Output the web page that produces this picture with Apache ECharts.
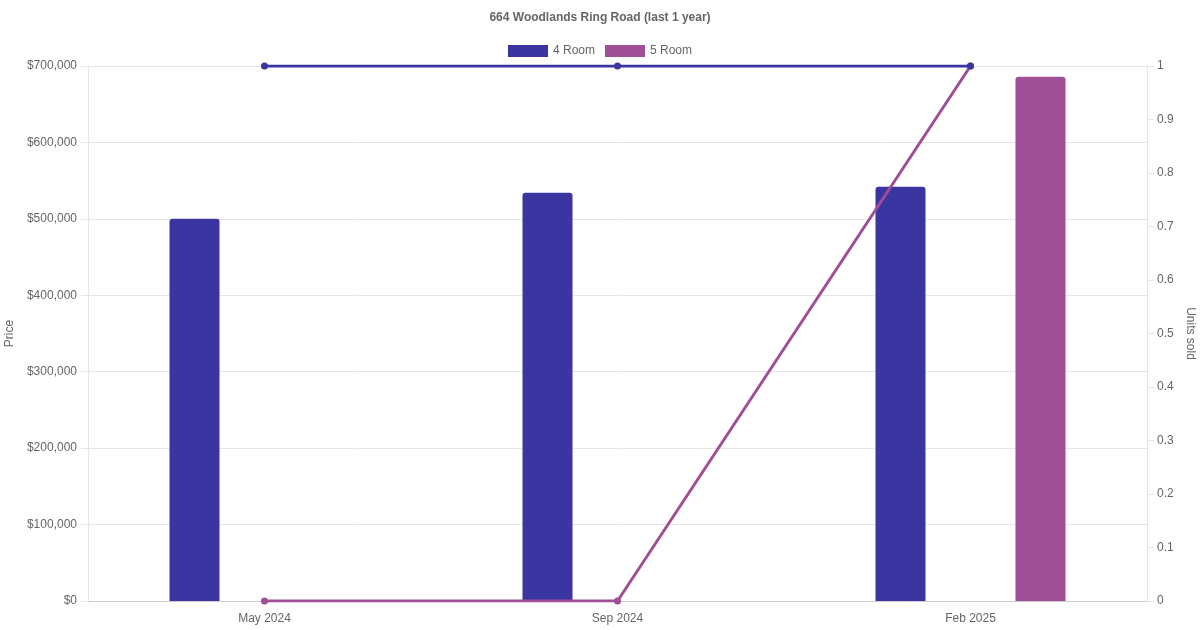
<!DOCTYPE html>
<html>
<head>
<meta charset="utf-8">
<script src="https://cdn.jsdelivr.net/npm/echarts@6/dist/echarts.min.js"></script>
<style>
html, body { margin: 0; padding: 0; background: #fff; }
#main { width: 1200px; height: 630px; }
</style>
</head>
<body>
<div id="main"></div>
<script>
var months = ['May 2024', 'Sep 2024', 'Feb 2025'];
var price4 = [500000, 534000, 542000];
var price5 = [null, null, 686000];
var units4 = [1, 1, 1];
var units5 = [0, 0, 1];

var c4 = '#3a35a0';
var c5 = '#9e4f95';
var txt = '#666';
var font = 'Liberation Sans, Arial, sans-serif';

var option = {
	animation: false,
	textStyle: { fontFamily: font },
	title: {
		text: '664 Woodlands Ring Road (last 1 year)',
		left: 'center',
		top: 7,
		textStyle: { fontSize: 12, fontWeight: 'bold', color: txt, fontFamily: font }
	},
	legend: {
		top: 40,
		left: 'center',
		icon: 'rect',
		itemWidth: 40,
		itemHeight: 12,
		itemGap: 10,
		textStyle: { fontSize: 12, color: txt },
		data: ['4 Room', '5 Room']
	},
	grid: { left: 88, right: 53, top: 66, bottom: 29, outerBoundsMode: 'none', containLabel: false },
	xAxis: [{
		type: 'category',
		data: months,
		axisTick: { show: false },
		axisLine: { lineStyle: { color: '#ccc' } },
		axisLabel: { color: txt, fontSize: 12, margin: 12 }
	}],
	yAxis: [{
		type: 'value',
		min: 0,
		max: 700000,
		interval: 100000,
		name: 'Price',
		nameLocation: 'middle',
		nameGap: 67,
		nameTextStyle: { color: txt, fontSize: 12 },
		axisLine: { show: true, lineStyle: { color: '#e5e5e5' } },
		axisTick: { show: true, length: 7, lineStyle: { color: '#e5e5e5' } },
		axisLabel: {
			color: txt, fontSize: 12, margin: 11,
			formatter: function(v) { return '$' + v.toLocaleString('en-US'); }
		},
		splitLine: { lineStyle: { color: '#e5e5e5' } }
	}, {
		type: 'value',
		min: 0,
		max: 1,
		interval: 0.1,
		name: 'Units sold',
		nameLocation: 'middle',
		nameGap: 32,
		nameRotate: -90,
		nameTextStyle: { color: txt, fontSize: 12 },
		axisLine: { show: true, lineStyle: { color: '#e5e5e5' } },
		axisTick: { show: true, length: 7, lineStyle: { color: '#e5e5e5' } },
		axisLabel: { color: txt, fontSize: 12, margin: 10 },
		splitLine: { show: false }
	}],
	series: [{
		name: '4 Room',
		type: 'bar',
		data: price4,
		barWidth: 50,
		barGap: '180%',
		itemStyle: { color: c4, borderRadius: [3, 3, 0, 0] }
	}, {
		name: '5 Room',
		type: 'bar',
		data: price5,
		barWidth: 50,
		barGap: '180%',
		itemStyle: { color: c5, borderRadius: [3, 3, 0, 0] }
	}, {
		name: '4 Room',
		type: 'line',
		yAxisIndex: 1,
		data: units4,
		symbol: 'circle',
		symbolSize: 7,
		lineStyle: { color: c4, width: 3 },
		itemStyle: { color: c4 },
		z: 6
	}, {
		name: '5 Room',
		type: 'line',
		yAxisIndex: 1,
		data: units5,
		symbol: 'circle',
		symbolSize: 7,
		lineStyle: { color: c5, width: 3 },
		itemStyle: { color: c5 },
		z: 5
	}]
};

var my = echarts.init(document.getElementById('main'));
my.setOption(option);
</script>
</body>
</html>
